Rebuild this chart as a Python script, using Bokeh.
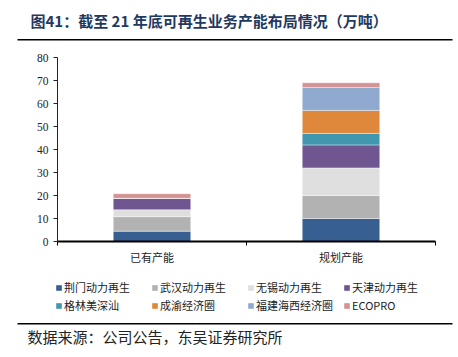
from bokeh.plotting import figure
from bokeh.layouts import column
from bokeh.models import (Range1d, LinearAxis, FixedTicker, BoxAnnotation, Label,
                          Legend, LegendItem, ColumnDataSource)
from bokeh.embed import file_html
from bokeh.resources import INLINE

categories = ["已有产能", "规划产能"]
series_names = ["荆门动力再生", "武汉动力再生", "无锡动力再生", "天津动力再生",
                "格林美深汕", "成渝经济圈", "福建海西经济圈", "ECOPRO"]
jingmen = [4.5, 10]
wuhan = [6.3, 10]
wuxi = [3, 12]
tianjin = [5, 10]
shenshan = [0, 5]
chengyu = [0, 10]
fujian = [0, 10]
ecopro = [2, 2]
y_ticks = [0, 10, 20, 30, 40, 50, 60, 70, 80]
title_text = "图41：截至 21 年底可再生业务产能布局情况（万吨）"
source_text = "数据来源：公司公告，东吴证券研究所"

series_values = [jingmen, wuhan, wuxi, tianjin, shenshan, chengyu, fujian, ecopro]
colors = ["#375F92", "#B2B2B2", "#DFDFDF", "#6F5690", "#4097AE", "#DF873B", "#8FA9CF", "#D39393"]

ncat = len(categories)
x_pos = [i + 0.5 for i in range(ncat)]
W = 456


def no_align(f):
    try:
        f.frame_align = False
    except Exception:
        pass


def blank(h):
    f = figure(width=W, height=h, x_range=Range1d(0, W), y_range=Range1d(0, h),
               output_backend="svg", toolbar_location=None, x_axis_location=None, y_axis_location=None,
               min_border=0)
    f.outline_line_color = None
    f.grid.visible = False
    f.background_fill_color = "white"
    f.border_fill_color = "white"
    no_align(f)
    return f


data = {"x": x_pos}
for name, vals in zip(series_names, series_values):
    data[name] = vals
src = ColumnDataSource(data)

# ---- header ----
H1 = 41
top = blank(H1)
top.add_layout(Label(x=30, y=H1 - 20, text=title_text, text_font="Noto Sans CJK SC",
                     text_font_style="bold", text_font_size="15px", text_color="#1F3A62",
                     text_baseline="middle"))
top.add_layout(BoxAnnotation(left=17, right=452, bottom=H1 - 40, top=H1 - 38.5,
                             fill_color="black", fill_alpha=1, line_color=None))

# ---- main chart ----
H2 = 231
p = figure(width=W, height=H2, x_range=Range1d(0, ncat), y_range=Range1d(0, 80),
           output_backend="svg", toolbar_location=None, x_axis_location=None, y_axis_location=None,
           min_border_left=57, min_border_right=21, min_border_top=16, min_border_bottom=31)
p.outline_line_color = None
p.grid.visible = False
p.background_fill_color = "white"
p.border_fill_color = "white"
no_align(p)

p.vbar_stack(series_names, x="x", width=0.41, source=src, color=colors,
             line_color="white", line_alpha=0.5, line_width=0.8)

yax = LinearAxis(ticker=FixedTicker(ticks=y_ticks))
yax.axis_line_color = "#222222"
yax.axis_line_width = 1
yax.major_tick_line_color = "#222222"
yax.major_tick_out = 4
yax.major_tick_in = 0
yax.minor_tick_line_color = None
yax.major_label_text_font = "Liberation Serif"
yax.major_label_text_font_size = "11.5px"
yax.major_label_text_color = "#222222"
yax.major_label_standoff = 5
p.add_layout(yax, "left")

cax = LinearAxis(ticker=FixedTicker(ticks=x_pos, minor_ticks=list(range(ncat + 1))),
                 major_label_overrides={x: c for x, c in zip(x_pos, categories)})
cax.axis_line_color = "black"
cax.axis_line_width = 2
cax.major_tick_line_color = None
cax.major_tick_out = 0
cax.major_tick_in = 0
cax.minor_tick_line_color = "black"
cax.minor_tick_out = 4
cax.minor_tick_in = 0
cax.major_label_text_font = "Noto Sans CJK SC"
cax.major_label_text_font_size = "11px"
cax.major_label_text_color = "#222222"
cax.major_label_standoff = 3
p.add_layout(cax, "below")

# ---- footer: legend, rule, source ----
H3 = 83
bot = blank(H3)
legend_renderers = bot.vbar_stack(series_names, x="x", width=0.41, source=src, color=colors,
                                  line_color=None, visible=False)
order = [0, 4, 1, 5, 2, 6, 3, 7]  # Bokeh fills columns first; reference reads row by row
legend = Legend(items=[LegendItem(label=series_names[i], renderers=[legend_renderers[i]]) for i in order],
                ncols=4, location=(55, H3 - 41))
legend.border_line_color = None
legend.background_fill_alpha = 0
legend.inactive_fill_alpha = 0
legend.click_policy = "none"
legend.glyph_width = 7
legend.glyph_height = 7
legend.label_text_font = "Noto Sans CJK SC"
legend.label_text_font_size = "11px"
legend.label_text_color = "#222222"
legend.label_standoff = 2
legend.label_height = 14
legend.label_width = 85
legend.spacing = 2
legend.padding = 0
legend.margin = 0
bot.add_layout(legend, "center")
bot.add_layout(BoxAnnotation(left=17, right=452, bottom=H3 - 52, top=H3 - 50.5,
                             fill_color="black", fill_alpha=1, line_color=None))
bot.add_layout(Label(x=27, y=H3 - 64, text=source_text, text_font="Noto Sans CJK SC",
                     text_font_size="15px", text_color="#222222", text_baseline="middle"))

page = column(top, p, bot, spacing=0)
open("out.html", "w").write(file_html(page, INLINE))
